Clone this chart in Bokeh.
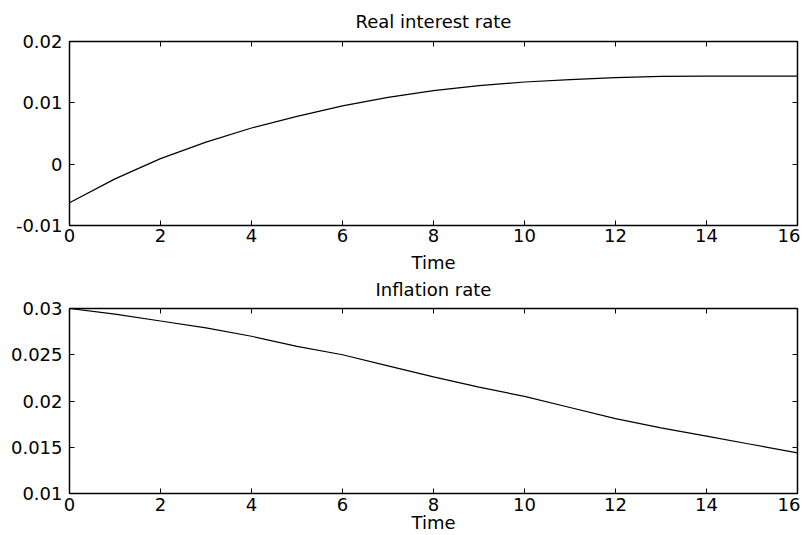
from bokeh.plotting import figure
from bokeh.models import Range1d, LinearAxis, FixedTicker
from bokeh.layouts import column
from bokeh.embed import file_html
from bokeh.resources import INLINE

# ---- data ----
time = list(range(17))
real_rate = [-0.0063, -0.0024, 0.0009, 0.0036, 0.0059, 0.0078, 0.0095, 0.0109,
             0.0120, 0.0128, 0.0134, 0.0138, 0.0141, 0.0143, 0.01435, 0.01435, 0.01435]
inflation = [0.0300, 0.0294, 0.02865, 0.0279, 0.0270, 0.0259, 0.0250, 0.0238,
             0.0226, 0.0215, 0.0205, 0.0193, 0.0181, 0.0171, 0.0162, 0.0153, 0.0144]

x_ticks = [0, 2, 4, 6, 8, 10, 12, 14, 16]
x_tick_labels = ["0", "2", "4", "6", "8", "10", "12", "14", "16"]
real_ticks = [-0.01, 0.0, 0.01, 0.02]
real_tick_labels = ["-0.01", "0", "0.01", "0.02"]
infl_ticks = [0.01, 0.015, 0.02, 0.025, 0.03]
infl_tick_labels = ["0.01", "0.015", "0.02", "0.025", "0.03"]

titles = ["Real interest rate", "Inflation rate"]
x_label = "Time"

FONT = "DejaVu Sans"
FS = "18px"


def style_axis(ax, ticks, labels, show_labels=True):
    ax.ticker = FixedTicker(ticks=ticks)
    ax.axis_line_color = "black"
    ax.axis_line_width = 1.5
    ax.major_tick_line_color = "black"
    ax.major_tick_line_width = 1
    ax.major_tick_in = 5
    ax.major_tick_out = 0
    ax.minor_tick_line_color = None
    ax.major_label_text_font = FONT
    ax.major_label_text_color = "black"
    ax.axis_label_text_font = FONT
    ax.axis_label_text_font_size = FS
    ax.axis_label_text_font_style = "normal"
    ax.axis_label_text_color = "black"
    if show_labels:
        ax.major_label_overrides = {t: l for t, l in zip(ticks, labels)}
        ax.major_label_text_font_size = FS
    else:
        ax.major_label_overrides = {t: "" for t in ticks}
        ax.major_label_text_font_size = "0px"
        ax.major_label_standoff = 0


def make_panel(title, y, y0, y1, yticks, ylabels, height, btop, bbottom,
               tick_standoff, label_standoff, title_standoff):
    p = figure(width=800, height=height, output_backend="svg", toolbar_location=None,
               tools="", x_range=Range1d(0, 16), y_range=Range1d(y0, y1),
               min_border_left=69, min_border_right=3,
               min_border_top=btop, min_border_bottom=bbottom)
    p.background_fill_color = "white"
    p.border_fill_color = "white"
    p.outline_line_color = "black"
    p.outline_line_width = 1
    p.xgrid.visible = False
    p.ygrid.visible = False

    xa = p.xaxis[0]
    style_axis(xa, x_ticks, x_tick_labels)
    xa.major_label_standoff = tick_standoff
    xa.axis_label = x_label
    xa.axis_label_standoff = label_standoff

    style_axis(p.yaxis[0], yticks, ylabels)
    p.yaxis[0].major_label_standoff = 7

    # mirrored box axis on top carries the panel title
    top_ax = LinearAxis()
    style_axis(top_ax, x_ticks, x_tick_labels, show_labels=False)
    top_ax.axis_label = title
    top_ax.axis_label_standoff = title_standoff
    p.add_layout(top_ax, "above")

    right_ax = LinearAxis()
    style_axis(right_ax, yticks, ylabels, show_labels=False)
    p.add_layout(right_ax, "right")

    p.line(time, y, line_color="black", line_width=1.2)
    return p


p1 = make_panel(titles[0], real_rate, -0.01, 0.02, real_ticks, real_tick_labels,
                275, 41, 50, 3, 7, 10)
p2 = make_panel(titles[1], inflation, 0.01, 0.03, infl_ticks, infl_tick_labels,
                260, 33, 42, 4, -2, 9)

layout = column(p1, p2, spacing=0)
open("out.html", "w").write(file_html(layout, INLINE))
